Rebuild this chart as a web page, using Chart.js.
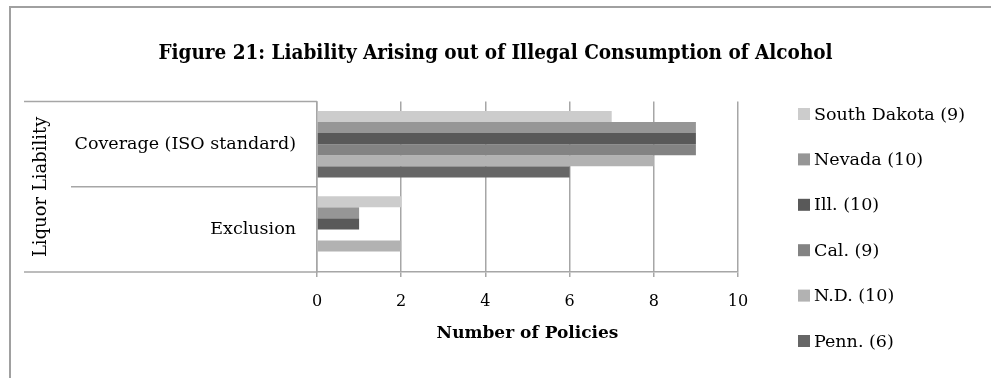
<!DOCTYPE html>
<html>
<head>
<meta charset="utf-8">
<script src="https://cdn.jsdelivr.net/npm/chart.js@4.4.0/dist/chart.umd.min.js"></script>
<style>
  body { margin: 0; overflow: hidden; background: #fff; }
  #frame {
    position: absolute; left: 9px; top: 6px; width: 1200px; height: 600px;
    border: 2px solid #a0a0a0; pointer-events: none;
  }
  #chart { position: absolute; left: 0; top: 0; }
</style>
</head>
<body>
<canvas id="chart" width="991" height="378"></canvas>
<div id="frame"></div>
<script>
// data
const categories = ["Coverage (ISO standard)", "Exclusion"];
const groupLabel = "Liquor Liability";
const seriesNames = ["South Dakota (9)", "Nevada (10)", "Ill. (10)", "Cal. (9)", "N.D. (10)", "Penn. (6)"];
const southDakota = [7, 2];
const nevada = [9, 1];
const illinois = [9, 1];
const california = [9, 0];
const northDakota = [8, 2];
const pennsylvania = [6, 0];
const xTickValues = [0, 2, 4, 6, 8, 10];

const seriesValues = [southDakota, nevada, illinois, california, northDakota, pennsylvania];
const seriesColors = ["#cccccc", "#969696", "#595959", "#838383", "#b2b2b2", "#666666"];
const lineColor = "#a6a6a6";
const serif = "'DejaVu Serif', serif";

// lines in the category label area (Excel style multi-level axis)
const labelLines = {
  id: "labelLines",
  afterDraw(chart) {
    const ctx = chart.ctx;
    const y = chart.scales.y;
    const n = categories.length;
    const band = (y.bottom - y.top) / n;
    ctx.save();
    ctx.strokeStyle = lineColor;
    ctx.lineWidth = 1.5;
    for (let i = 0; i <= n; i++) {
      const py = i < n ? y.getPixelForValue(i) - band / 2 : y.getPixelForValue(n - 1) + band / 2;
      const startX = (i === 0 || i === n) ? 24 : 71;
      ctx.beginPath();
      ctx.moveTo(startX, py);
      ctx.lineTo(y.right, py);
      ctx.stroke();
    }
    ctx.restore();
  }
};

// legend on the right, items spaced out like the original
const sideLegend = {
  id: "sideLegend",
  afterDraw(chart) {
    const ctx = chart.ctx;
    ctx.save();
    ctx.font = "17.5px " + serif;
    ctx.textBaseline = "middle";
    chart.data.datasets.forEach((ds, i) => {
      const cy = 114 + i * 45.4;
      ctx.fillStyle = ds.backgroundColor;
      ctx.fillRect(798, cy - 6, 12, 12);
      ctx.fillStyle = "#000";
      ctx.fillText(ds.label, 814, cy + 1);
    });
    ctx.restore();
  }
};

const ctx = document.getElementById("chart").getContext("2d");
new Chart(ctx, {
  type: "bar",
  data: {
    labels: categories,
    datasets: seriesNames.map((name, i) => ({
      label: name,
      data: seriesValues[i],
      backgroundColor: seriesColors[i],
      borderWidth: 0,
      categoryPercentage: 0.78,
      barPercentage: 1.0,
    })),
  },
  options: {
    indexAxis: "y",
    responsive: false,
    animation: false,
    layout: { padding: 0 },
    plugins: {
      legend: { display: false },
      tooltip: { enabled: false },
      title: {
        display: true,
        text: "Figure 21: Liability Arising out of Illegal Consumption of Alcohol",
        color: "#000",
        font: { family: "'DejaVu Serif Condensed', 'Liberation Serif', serif", size: 20.5, weight: "bold" },
        padding: { top: 41, bottom: 36 },
      },
    },
    scales: {
      x: {
        min: 0,
        max: 10,
        afterFit: (s) => { s.height = 106; },
        afterBuildTicks: (s) => { s.ticks = xTickValues.map((v) => ({ value: v })); },
        grid: { color: lineColor, lineWidth: 1.5, tickLength: 5, drawTicks: true },
        border: { display: true, color: lineColor, width: 1.5 },
        ticks: { color: "#000", font: { family: serif, size: 16 }, padding: 15 },
        title: {
          display: true,
          text: "Number of Policies",
          color: "#000",
          font: { family: serif, size: 17, weight: "bold" },
          padding: { top: 0, bottom: 34 },
        },
      },
      y: {
        afterFit: (s) => { s.width = 317; },
        grid: { display: false, drawTicks: false, tickLength: 0 },
        border: { display: true, color: lineColor, width: 1.5 },
        ticks: { color: "#000", font: { family: serif, size: 17.5 }, padding: 21 },
        title: {
          display: true,
          text: groupLabel,
          color: "#000",
          font: { family: serif, size: 18 },
          padding: { top: 31, bottom: 0 },
        },
      },
      // empty right-hand axis that only reserves room for the legend
      legendSpace: {
        axis: "y",
        type: "category",
        position: "right",
        afterFit: (s) => { s.width = 253; },
        grid: { display: false, drawTicks: false },
        border: { display: false },
        ticks: { display: false },
      },
    },
  },
  plugins: [labelLines, sideLegend],
});
</script>
</body>
</html>
